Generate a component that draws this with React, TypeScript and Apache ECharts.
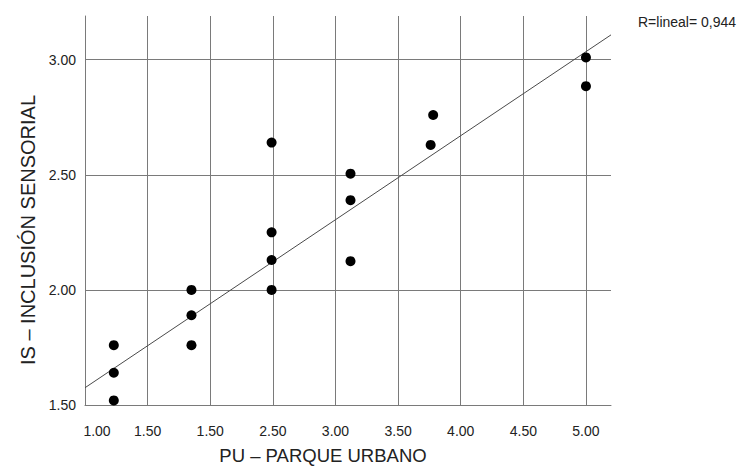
import React, { useEffect, useRef } from "react";
import * as echarts from "echarts";

// PU (parque urbano) scores per observation
const puValues = [1.23, 1.23, 1.23, 1.85, 1.85, 1.85, 2.49, 2.49, 2.49, 2.49, 3.12, 3.12, 3.12, 3.78, 3.76, 5.0, 5.0];
// IS (inclusión sensorial) scores per observation
const isValues = [1.52, 1.64, 1.76, 1.76, 1.89, 2.0, 2.0, 2.13, 2.25, 2.64, 2.125, 2.39, 2.505, 2.76, 2.63, 3.01, 2.885];

// Tick labels as printed on each axis
const xTickLabels = ["1.00", "1.50", "1.50", "2.50", "3.00", "3.50", "4.00", "4.50", "5.00"];
const yTickLabels = ["1.50", "2.00", "2.50", "3.00"];

// Linear fit line (IS = a + b * PU) and its reported coefficient
const fitIntercept = 1.21;
const fitSlope = 0.365;
const fitLabel = "R=lineal= 0,944";

const X_MIN = 1.0;
const X_MAX = 5.2;
const Y_MIN = 1.5;
const Y_MAX = 3.19;
const STEP = 0.5;

const FONT = "'Liberation Sans', Arial, Helvetica, sans-serif";
const GRID_COLOR = "#7a7a7a";
const TEXT_COLOR = "#222";

export default function App() {
  const ref = useRef<HTMLDivElement>(null);

  useEffect(() => {
    if (!ref.current) return;
    const chart = echarts.init(ref.current, null, { renderer: "svg" });

    const points = puValues.map((x, i) => [x, isValues[i]]);
    const fitLine = [X_MIN, X_MAX].map((x) => [x, fitIntercept + fitSlope * x]);

    chart.setOption({
      animation: false,
      backgroundColor: "#ffffff",
      grid: { left: 85, right: 131, top: 16, bottom: 61, containLabel: false },
      xAxis: {
        type: "value",
        min: X_MIN,
        max: X_MAX,
        interval: STEP,
        axisLine: { show: true, lineStyle: { color: GRID_COLOR, width: 1 } },
        axisTick: { show: false },
        splitLine: { show: true, showMaxLine: false, lineStyle: { color: GRID_COLOR, width: 1 } },
        axisLabel: {
          margin: 19,
          showMaxLabel: false,
          fontSize: 14,
          fontFamily: FONT,
          color: TEXT_COLOR,
          formatter: (v: number) => {
            const i = Math.round((v - X_MIN) / STEP);
            const t = xTickLabels[i] ?? "";
            return i === 0 ? `{first|${t}}` : t;
          },
          rich: {
            first: { padding: [0, 0, 0, 24], fontSize: 14, fontFamily: FONT, color: TEXT_COLOR },
          },
        },
      },
      yAxis: {
        type: "value",
        min: Y_MIN,
        max: Y_MAX,
        interval: STEP,
        axisLine: { show: true, lineStyle: { color: GRID_COLOR, width: 1 } },
        axisTick: { show: false },
        splitLine: { show: true, showMaxLine: false, lineStyle: { color: GRID_COLOR, width: 1 } },
        axisLabel: {
          margin: 9,
          showMaxLabel: false,
          fontSize: 14,
          fontFamily: FONT,
          color: TEXT_COLOR,
          formatter: (v: number) => yTickLabels[Math.round((v - Y_MIN) / STEP)] ?? "",
        },
      },
      series: [
        {
          type: "line",
          data: fitLine,
          showSymbol: false,
          symbol: "none",
          lineStyle: { color: "#4a4a4a", width: 1 },
          silent: true,
          z: 2,
        },
        {
          type: "scatter",
          data: points,
          symbol: "circle",
          symbolSize: 10,
          itemStyle: { color: "#000000", opacity: 1 },
          z: 3,
        },
      ],
      graphic: [
        {
          type: "text",
          x: 323,
          y: 455,
          style: {
            text: "PU – PARQUE URBANO",
            fontSize: 18.5,
            fontFamily: FONT,
            fill: TEXT_COLOR,
            align: "center",
            verticalAlign: "middle",
          },
        },
        {
          type: "text",
          x: 28,
          y: 230,
          rotation: Math.PI / 2,
          style: {
            text: "IS – INCLUSIÓN SENSORIAL",
            fontSize: 20,
            fontFamily: FONT,
            fill: TEXT_COLOR,
            align: "center",
            verticalAlign: "middle",
          },
        },
        {
          type: "text",
          x: 638,
          y: 22,
          style: {
            text: fitLabel,
            fontSize: 14,
            fontFamily: FONT,
            fill: TEXT_COLOR,
            align: "left",
            verticalAlign: "middle",
          },
        },
      ],
    });

    return () => chart.dispose();
  }, []);

  return (
    <div
      ref={ref}
      style={{ position: "fixed", left: 0, top: 0, width: 742, height: 466 }}
    />
  );
}
